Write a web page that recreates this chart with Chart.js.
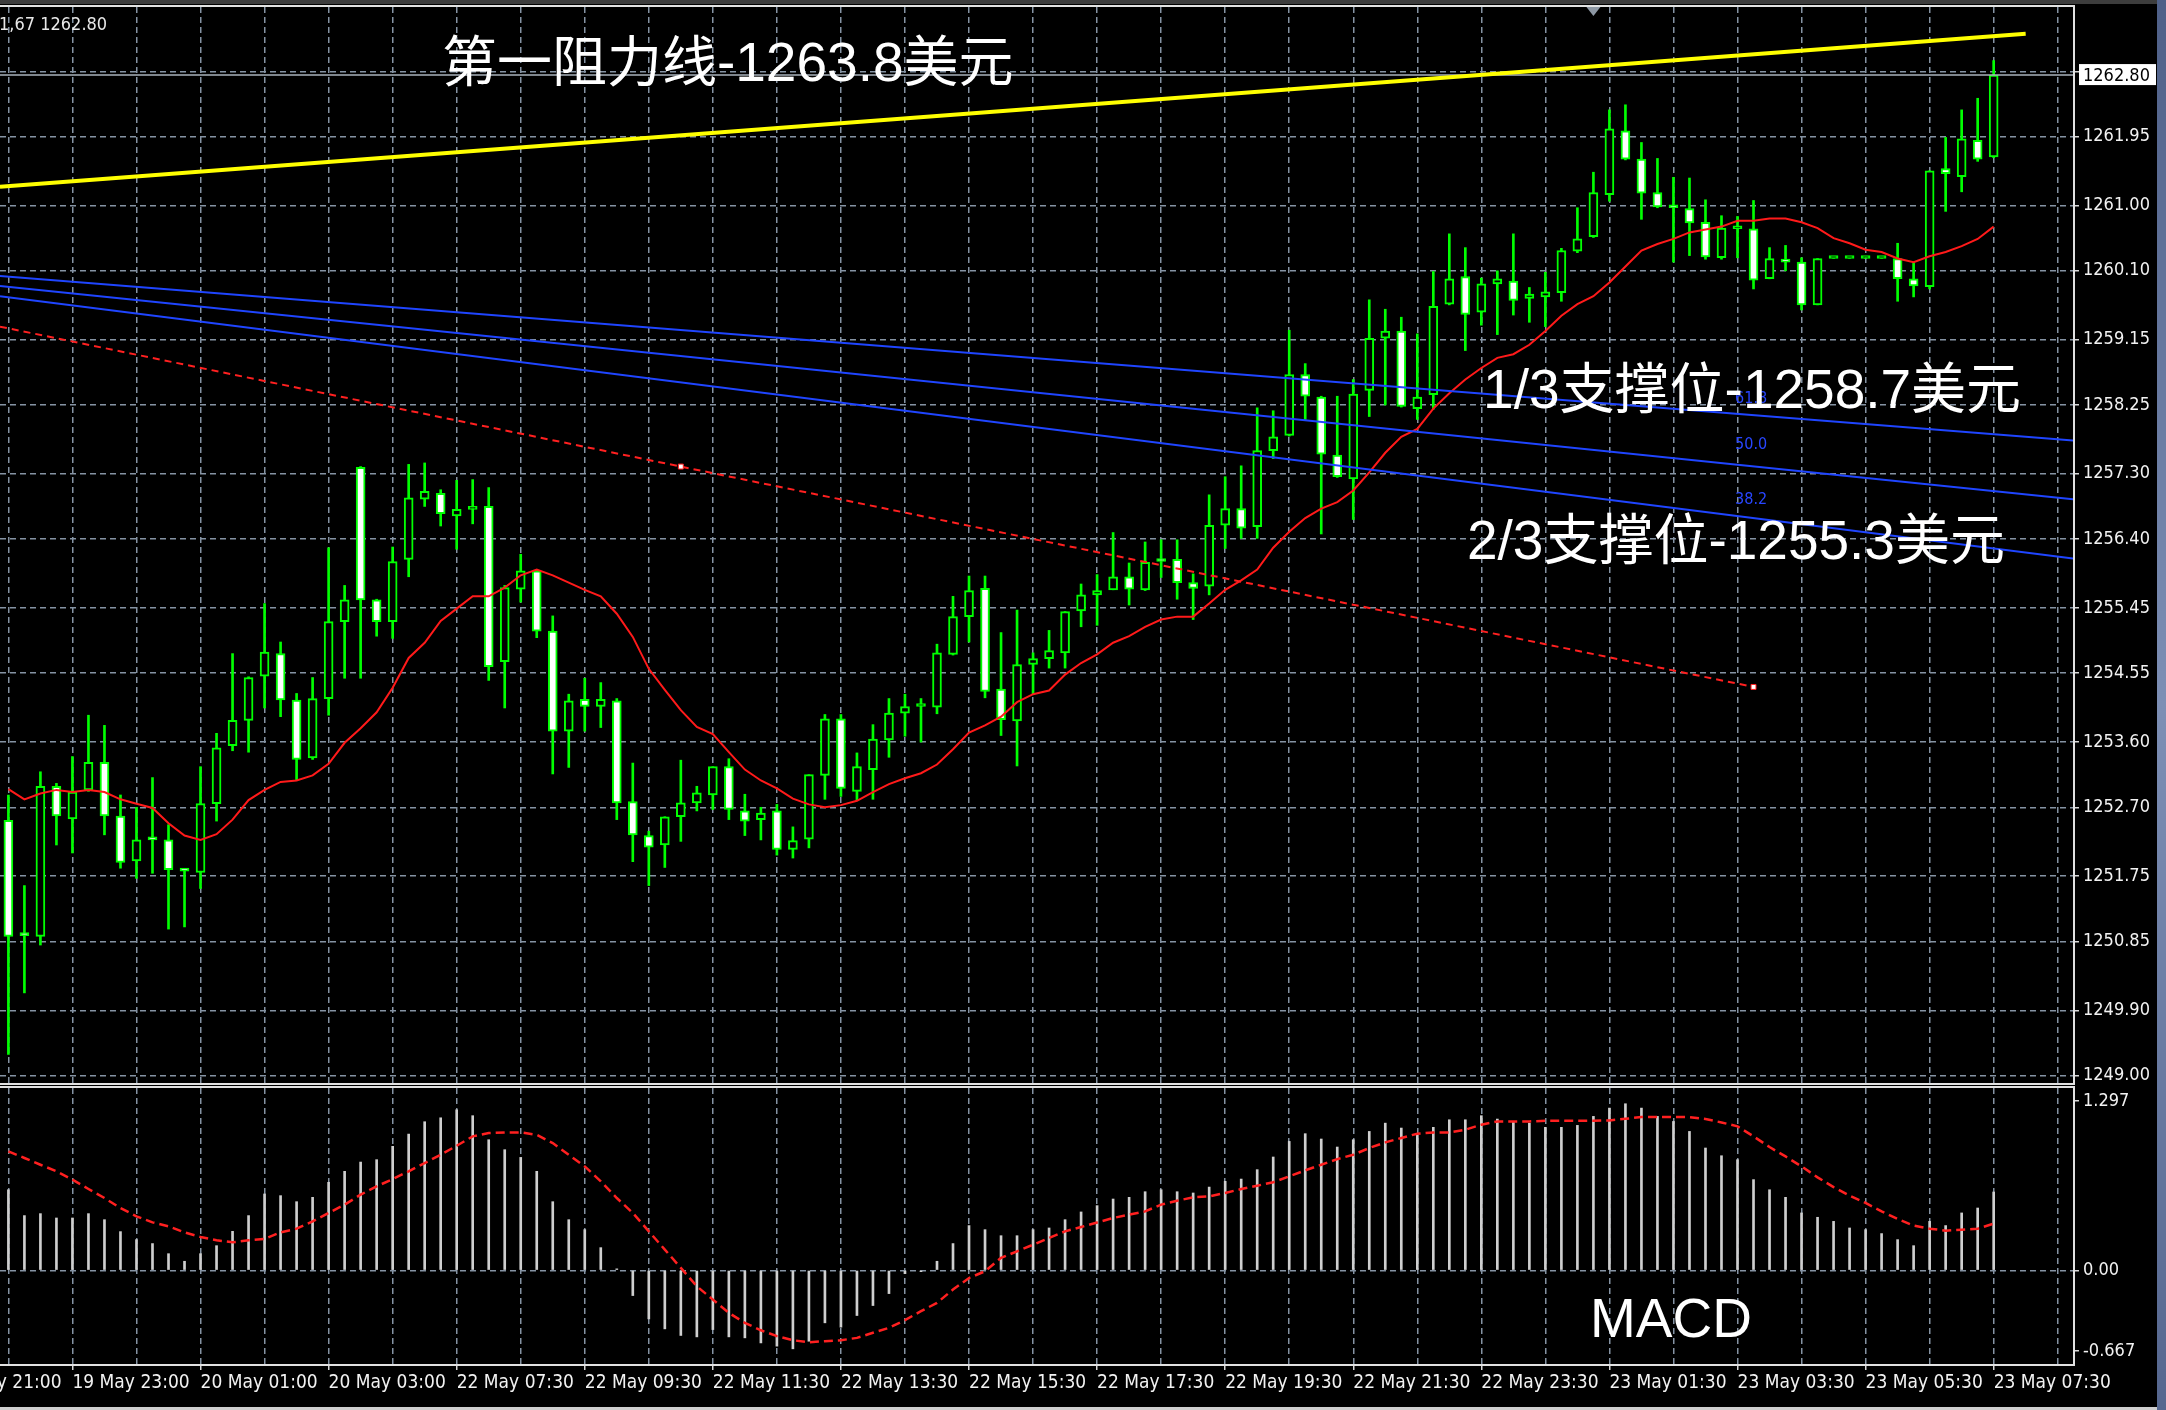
<!DOCTYPE html>
<html>
<head>
<meta charset="utf-8">
<title>XAUUSD M15</title>
<script src="https://cdn.jsdelivr.net/npm/chart.js@4.4.1/dist/chart.umd.min.js"></script>
<style>
  html, body { margin: 0; padding: 0; background: #000; }
  #wrap { position: relative; width: 2166px; height: 1410px; overflow: hidden; background: #000; }
  #priceChart { position: absolute; left: 0; top: 0; width: 2166px; height: 1086px; }
  #macdChart { position: absolute; left: 0; top: 1086px; width: 2166px; height: 324px; }
  #topBand { position: absolute; left: 0; top: 0; width: 2166px; height: 4px; background: #3d3d3d; }
  #desk { position: absolute; left: 2157px; top: 0; width: 9px; height: 1410px; background: linear-gradient(180deg, #4f6088, #7d8fb5 50%, #56678f); }
  #bottomLine { position: absolute; left: 0; top: 1407px; width: 2157px; height: 3px; background: #cfcfcf; }
</style>
</head>
<body>
<div id="wrap">
  <canvas id="priceChart" width="2166" height="1086"></canvas>
  <canvas id="macdChart" width="2166" height="324"></canvas>
  <div id="topBand"></div>
  <div id="desk"></div>
  <div id="bottomLine"></div>
</div>
<script>
// ---- data (bar 0 = 19 May 22:00) ----
const opens = [1252.52,1250.94,1250.92,1252.99,1252.54,1252.94,1253.32,1252.58,1251.96,1252.27,
  1252.25,1251.83,1251.80,1252.75,1253.55,1253.90,1254.51,1254.82,1254.18,1253.38,
  1254.20,1255.26,1257.39,1255.56,1255.26,1256.12,1256.95,1257.03,1256.72,1256.81,
  1256.85,1254.71,1255.71,1255.96,1255.13,1253.75,1254.19,1254.09,1254.17,1252.78,
  1252.31,1252.18,1252.57,1252.76,1252.87,1253.26,1252.65,1252.53,1252.65,1252.12,
  1252.26,1253.14,1253.92,1252.92,1253.22,1253.63,1254.00,1254.09,1254.08,1254.81,
  1255.33,1255.72,1254.33,1253.89,1254.67,1254.75,1254.83,1255.41,1255.63,1255.70,
  1255.88,1255.70,1256.10,1256.12,1255.80,1255.75,1256.59,1256.82,1256.57,1257.62,
  1257.83,1258.67,1258.36,1257.56,1257.23,1258.45,1259.17,1259.27,1258.20,1258.39,
  1259.64,1260.02,1259.53,1259.92,1259.96,1259.72,1259.74,1259.80,1260.37,1260.57,
  1261.15,1262.03,1261.64,1261.18,1260.98,1260.96,1260.77,1260.28,1260.68,1260.68,
  1259.99,1260.26,1260.22,1259.63,1260.27,1260.27,1260.27,1260.27,1260.27,1259.99,
  1259.88,1261.51,1261.40,1261.90,1261.67];
const highs = [1252.87,1251.62,1253.19,1253.03,1253.40,1253.97,1253.83,1252.87,1252.70,1253.11,
  1252.46,1251.84,1253.26,1253.72,1254.82,1254.50,1255.51,1254.98,1254.27,1254.49,
  1256.28,1255.76,1257.40,1255.57,1256.29,1257.43,1257.45,1257.08,1257.21,1257.22,
  1257.11,1255.76,1256.19,1255.98,1255.34,1254.26,1254.48,1254.42,1254.20,1253.31,
  1252.37,1252.57,1253.35,1252.99,1253.26,1253.37,1252.88,1252.70,1252.74,1252.43,
  1253.15,1253.98,1253.98,1253.45,1253.84,1254.20,1254.26,1254.20,1254.95,1255.61,
  1255.89,1255.89,1255.11,1255.42,1254.83,1255.14,1255.40,1255.78,1255.91,1256.49,
  1256.07,1256.36,1256.39,1256.39,1255.92,1257.01,1257.26,1257.41,1258.21,1258.17,
  1259.28,1258.82,1258.37,1258.37,1258.60,1259.70,1259.57,1259.46,1259.23,1260.09,
  1260.61,1260.42,1260.00,1260.10,1260.61,1259.87,1260.08,1260.41,1260.97,1261.46,
  1262.32,1262.39,1261.87,1261.65,1261.39,1261.38,1261.08,1260.86,1260.85,1261.07,
  1260.42,1260.45,1260.28,1260.27,1260.27,1260.27,1260.27,1260.27,1260.48,1260.21,
  1261.48,1261.94,1262.32,1262.48,1263.00];
const lows = [1249.29,1250.14,1250.80,1252.18,1252.07,1252.92,1252.32,1251.86,1251.72,1251.79,
  1251.02,1251.05,1251.58,1252.51,1253.48,1253.46,1254.07,1253.95,1253.08,1253.36,
  1253.97,1254.48,1254.48,1255.06,1255.03,1255.88,1256.85,1256.58,1256.26,1256.61,
  1254.45,1254.07,1255.53,1255.04,1253.16,1253.25,1253.75,1253.80,1252.53,1251.95,
  1251.62,1251.87,1252.23,1252.65,1252.67,1252.53,1252.31,1252.25,1252.04,1252.00,
  1252.14,1252.81,1252.85,1252.80,1252.81,1253.39,1253.68,1253.60,1253.99,1254.80,
  1254.98,1254.21,1253.69,1253.27,1254.26,1254.62,1254.62,1255.19,1255.21,1255.70,
  1255.49,1255.69,1255.87,1255.57,1255.29,1255.63,1256.27,1256.41,1256.41,1257.51,
  1257.82,1258.05,1256.47,1257.25,1256.67,1258.09,1258.25,1258.22,1258.05,1258.19,
  1259.63,1259.00,1259.35,1259.22,1259.49,1259.39,1259.33,1259.68,1260.35,1260.56,
  1261.06,1261.63,1260.81,1260.97,1260.22,1260.31,1260.26,1260.26,1260.28,1259.85,
  1259.99,1260.10,1259.56,1259.63,1260.27,1260.27,1260.27,1260.27,1259.68,1259.74,
  1259.85,1260.92,1261.19,1261.61,1261.66];
const closes = [1250.92,1250.93,1252.99,1252.58,1252.91,1253.32,1252.58,1251.94,1252.25,1252.25,
  1251.84,1251.82,1252.75,1253.52,1253.90,1254.49,1254.84,1254.18,1253.36,1254.20,
  1255.26,1255.56,1255.56,1255.26,1256.09,1256.97,1257.06,1256.75,1256.81,1256.82,
  1254.64,1255.73,1255.96,1255.13,1253.75,1254.17,1254.09,1254.19,1252.76,1252.32,
  1252.15,1252.57,1252.76,1252.90,1253.26,1252.67,1252.51,1252.62,1252.12,1252.24,
  1253.15,1253.92,1252.96,1253.26,1253.64,1254.00,1254.09,1254.10,1254.83,1255.33,
  1255.69,1254.30,1253.91,1254.67,1254.75,1254.86,1255.40,1255.63,1255.69,1255.88,
  1255.71,1256.08,1256.09,1255.80,1255.72,1256.59,1256.82,1256.55,1257.62,1257.81,
  1258.67,1258.37,1257.57,1257.26,1258.40,1259.17,1259.27,1258.23,1258.36,1259.61,
  1259.99,1259.50,1259.92,1259.99,1259.69,1259.78,1259.81,1260.38,1260.54,1261.18,
  1262.06,1261.64,1261.17,1260.98,1260.97,1260.76,1260.29,1260.69,1260.69,1259.97,
  1260.27,1260.22,1259.63,1260.27,1260.27,1260.27,1260.27,1260.27,1259.99,1259.89,
  1261.48,1261.44,1261.92,1261.64,1262.80];
const movingAvg = [1252.95,1252.81,1252.89,1252.94,1252.91,1252.94,1252.91,1252.81,1252.75,1252.69,
  1252.48,1252.31,1252.25,1252.33,1252.53,1252.80,1252.94,1253.05,1253.07,1253.14,
  1253.30,1253.59,1253.79,1254.01,1254.35,1254.76,1254.97,1255.27,1255.44,1255.61,
  1255.61,1255.73,1255.90,1255.98,1255.90,1255.80,1255.70,1255.61,1255.37,1255.05,
  1254.61,1254.32,1254.04,1253.81,1253.71,1253.46,1253.22,1253.07,1252.96,1252.82,
  1252.74,1252.70,1252.73,1252.79,1252.91,1253.02,1253.10,1253.17,1253.29,1253.50,
  1253.73,1253.83,1253.95,1254.15,1254.26,1254.31,1254.53,1254.69,1254.81,1254.97,
  1255.06,1255.19,1255.29,1255.33,1255.33,1255.51,1255.70,1255.83,1255.98,1256.28,
  1256.50,1256.69,1256.82,1256.91,1257.07,1257.32,1257.59,1257.81,1257.92,1258.20,
  1258.41,1258.60,1258.76,1258.90,1258.95,1259.08,1259.27,1259.48,1259.64,1259.75,
  1259.94,1260.16,1260.38,1260.47,1260.54,1260.63,1260.67,1260.71,1260.79,1260.79,
  1260.82,1260.82,1260.77,1260.69,1260.55,1260.48,1260.39,1260.36,1260.27,1260.22,
  1260.30,1260.36,1260.44,1260.54,1260.71];
const macdHist = [0.573,0.389,0.403,0.372,0.372,0.403,0.360,0.275,0.218,0.190,
  0.118,0.064,0.118,0.175,0.277,0.389,0.543,0.531,0.488,0.519,
  0.626,0.704,0.770,0.787,0.882,0.969,1.057,1.085,1.142,1.100,
  0.929,0.858,0.803,0.704,0.488,0.360,0.289,0.161,0.010,-0.180,
  -0.346,-0.417,-0.464,-0.474,-0.422,-0.474,-0.481,-0.517,-0.540,-0.559,
  -0.505,-0.374,-0.405,-0.322,-0.251,-0.166,-0.024,-0.010,0.064,0.190,
  0.318,0.289,0.246,0.246,0.289,0.301,0.360,0.415,0.460,0.507,
  0.519,0.559,0.573,0.559,0.550,0.592,0.633,0.649,0.716,0.806,
  0.917,0.972,0.934,0.877,0.929,0.988,1.047,1.012,0.964,1.017,
  1.071,1.071,1.100,1.076,1.059,1.047,1.017,1.017,1.031,1.095,
  1.154,1.185,1.154,1.095,1.059,0.988,0.870,0.815,0.787,0.645,
  0.573,0.519,0.408,0.377,0.348,0.301,0.289,0.261,0.218,0.175,
  0.348,0.318,0.408,0.443,0.557];
const macdSignal = [0.846,0.799,0.751,0.704,0.645,0.578,0.514,0.443,0.384,0.341,
  0.313,0.270,0.237,0.213,0.199,0.213,0.223,0.270,0.296,0.348,
  0.408,0.467,0.538,0.597,0.649,0.704,0.763,0.822,0.886,0.953,
  0.976,0.981,0.981,0.964,0.905,0.822,0.739,0.633,0.514,0.408,
  0.277,0.147,0.017,-0.114,-0.209,-0.303,-0.374,-0.427,-0.469,-0.498,
  -0.512,-0.505,-0.498,-0.481,-0.445,-0.410,-0.355,-0.291,-0.232,-0.137,
  -0.055,-0.007,0.088,0.135,0.182,0.230,0.277,0.308,0.340,0.372,
  0.396,0.419,0.467,0.495,0.519,0.526,0.550,0.578,0.602,0.626,
  0.668,0.711,0.751,0.791,0.822,0.870,0.910,0.941,0.972,0.981,
  0.981,1.000,1.036,1.059,1.059,1.059,1.064,1.064,1.064,1.064,
  1.066,1.078,1.090,1.090,1.090,1.090,1.076,1.052,1.024,0.953,
  0.877,0.810,0.739,0.661,0.592,0.531,0.479,0.419,0.365,0.318,
  0.296,0.282,0.289,0.296,0.332];

// tick labels: time labels every 8 bars starting at bar -4
const timeLabels = ['19 May 21:00','19 May 23:00','20 May 01:00','20 May 03:00','22 May 07:30',
  '22 May 09:30','22 May 11:30','22 May 13:30','22 May 15:30','22 May 17:30','22 May 19:30',
  '22 May 21:30','22 May 23:30','23 May 01:30','23 May 03:30','23 May 05:30','23 May 07:30'];
const priceTicks = ['1249.00','1249.90','1250.85','1251.75','1252.70','1253.60','1254.55','1255.45',
  '1256.40','1257.30','1258.25','1259.15','1260.10','1261.00','1261.95'];
const macdAxisLabels = ['1.297', '0.00', '-0.667'];

// drawn objects (trend lines, fan, levels)
const resistanceLine = [1261.26, 1263.37];      // left edge -> bar 126
const fanLeft = [1260.03, 1259.89, 1259.75];     // 61.8 / 50.0 / 38.2 at left edge
const fanRight = [1257.76, 1256.95, 1256.13];    // at right edge
const fanLevels = ['61.8', '50.0', '38.2'];
const trendBars = [42, 109];
const trendPrices = [1259.33, 1257.40, 1254.36]; // left edge, anchor 1, anchor 2
const lastPrice = 1262.80;
const headerText = '1,67 1262.80';
const levelNotes = ['第一阻力线-1263.8美元', '1/3支撑位-1258.7美元', '2/3支撑位-1255.3美元'];
const macdNote = 'MACD';

// ---- layout ----
const xMin = -0.525, xMax = 128.955;
const gridColor = '#8593a3';
const axisFamily = "'DejaVu Sans Condensed', 'DejaVu Sans', sans-serif";
const noteFont = "55px 'Liberation Sans', 'Noto Sans CJK SC', sans-serif";

Chart.defaults.font.family = axisFamily;
Chart.defaults.font.size = 18;

// keep chart areas exactly where the panels are: no label padding
function noPadding(scale) {
    scale.paddingLeft = 0;
    scale.paddingRight = 0;
    scale.paddingTop = 0;
    scale.paddingBottom = 0;
}

function xAxis(showLabels) {
    return {
        type: 'linear',
        min: xMin,
        max: xMax,
        offset: false,
        afterBuildTicks: (scale) => {
            const t = [];
            for (let b = -4; b <= 128; b += 4) t.push({ value: b });
            scale.ticks = t;
        },
        afterFit: (scale) => {
            noPadding(scale);
            scale.height = showLabels ? 46 : 0;
        },
        grid: {
            offset: false,
            color: gridColor,
            lineWidth: 1.5,
            drawTicks: showLabels,
            tickLength: 6,
            tickWidth: 1.5,
            tickBorderDash: [],
            tickColor: (ctx) => (ctx.tick && (ctx.tick.value + 4) % 8 === 0) ? '#d8d8d8' : 'rgba(0,0,0,0)'
        },
        border: { display: false, dash: [6, 4] },
        ticks: {
            display: showLabels,
            autoSkip: false,
            maxRotation: 0,
            minRotation: 0,
            align: 'start',
            padding: 2,
            color: '#f2f2f2',
            font: { size: 19 },
            callback: (value) => {
                const k = (value + 4) / 8;
                return Number.isInteger(k) && timeLabels[k] ? timeLabels[k] : '';
            }
        }
    };
}

function frameLines(ctx, a) {
    ctx.strokeStyle = '#e2e2e2';
    ctx.lineWidth = 2;
    ctx.beginPath();
    ctx.moveTo(0, a.top - 1);
    ctx.lineTo(a.right + 1, a.top - 1);
    ctx.lineTo(a.right + 1, a.bottom + 1);
    ctx.lineTo(0, a.bottom + 1);
    ctx.stroke();
}

const priceDecor = {
    id: 'priceDecor',
    afterDraw(chart) {
        const { ctx, chartArea: a, scales: { x, y } } = chart;
        ctx.save();
        frameLines(ctx, a);

        // chart shift marker
        const sx = x.getPixelForValue(99);
        ctx.fillStyle = '#8d97a3';
        ctx.beginPath();
        ctx.moveTo(sx - 7, a.top);
        ctx.lineTo(sx + 7, a.top);
        ctx.lineTo(sx, a.top + 9);
        ctx.closePath();
        ctx.fill();

        // fan level captions
        ctx.font = '16px ' + axisFamily;
        ctx.fillStyle = '#2846ff';
        ctx.textBaseline = 'alphabetic';
        const capPrices = [1258.28, 1257.64, 1256.88];
        fanLevels.forEach((t, i) => ctx.fillText(t, x.getPixelForValue(107.85), y.getPixelForValue(capPrices[i])));

        // level notes
        ctx.font = noteFont;
        ctx.fillStyle = '#ffffff';
        const notePos = [[27.08, 1262.72], [92.11, 1258.21], [91.1, 1256.13]];
        levelNotes.forEach((t, i) => ctx.fillText(t, x.getPixelForValue(notePos[i][0]), y.getPixelForValue(notePos[i][1])));

        // last price box on the axis
        const py = y.getPixelForValue(lastPrice);
        ctx.fillStyle = '#ffffff';
        ctx.fillRect(a.right + 6, py - 11, 77, 21);
        ctx.fillStyle = '#000000';
        ctx.font = '18px ' + axisFamily;
        ctx.textBaseline = 'middle';
        ctx.fillText(lastPrice.toFixed(2), a.right + 10, py + 1);

        // header
        ctx.fillStyle = '#e8e8e8';
        ctx.textBaseline = 'alphabetic';
        ctx.fillText(headerText, -1, 30);
        ctx.restore();
    }
};

const macdDecor = {
    id: 'macdDecor',
    afterDraw(chart) {
        const { ctx, chartArea: a, scales: { x, y } } = chart;
        ctx.save();
        frameLines(ctx, a);
        ctx.font = noteFont;
        ctx.fillStyle = '#ffffff';
        ctx.textBaseline = 'alphabetic';
        ctx.fillText(macdNote, x.getPixelForValue(98.79), y.getPixelForValue(-0.475));
        ctx.restore();
    }
};

document.addEventListener('DOMContentLoaded', function() {
    const bars = opens.map((_, i) => i);
    const bodyFill = bars.map(i => closes[i] < opens[i] ? '#ffffff' : '#000000');

    new Chart(document.getElementById('priceChart').getContext('2d'), {
        type: 'bar',
        data: {
            datasets: [{
                label: 'wick',
                data: bars.map(i => ({ x: i, y: [lows[i], highs[i]] })),
                backgroundColor: '#00ff00',
                borderWidth: 0,
                barThickness: 2,
                grouped: false,
                order: 10
            }, {
                label: 'body',
                data: bars.map(i => ({ x: i, y: [opens[i], closes[i]] })),
                backgroundColor: bodyFill,
                borderColor: '#00ff00',
                borderWidth: 2,
                borderSkipped: false,
                barThickness: 9,
                minBarLength: 3,
                grouped: false,
                order: 9
            }, {
                type: 'line',
                label: 'MA',
                data: bars.map(i => ({ x: i, y: movingAvg[i] })),
                borderColor: '#ff1a1a',
                borderWidth: 2,
                pointRadius: 0,
                order: 5
            }, ...fanLevels.map((lvl, k) => ({
                type: 'line',
                label: 'fan ' + lvl,
                data: [{ x: xMin, y: fanLeft[k] }, { x: xMax, y: fanRight[k] }],
                borderColor: '#1f45ff',
                borderWidth: 2,
                pointRadius: 0,
                order: 4
            })), {
                type: 'line',
                label: 'trend',
                data: [{ x: xMin, y: trendPrices[0] }, { x: trendBars[0], y: trendPrices[1] }, { x: trendBars[1], y: trendPrices[2] }],
                borderColor: '#ff2020',
                borderWidth: 2,
                borderDash: [7, 5],
                pointStyle: 'rect',
                pointRadius: [0, 3.5, 3.5],
                pointBackgroundColor: '#ffffff',
                pointBorderColor: '#ff2020',
                pointBorderWidth: 1,
                order: 3
            }, {
                type: 'line',
                label: 'resistance',
                data: [{ x: xMin, y: resistanceLine[0] }, { x: 126, y: resistanceLine[1] }],
                borderColor: '#ffff00',
                borderWidth: 4,
                pointRadius: 0,
                order: 2
            }, {
                type: 'line',
                label: 'last',
                data: [{ x: xMin, y: lastPrice }, { x: xMax, y: lastPrice }],
                borderColor: '#aab3bd',
                borderWidth: 1.5,
                pointRadius: 0,
                order: 6
            }]
        },
        options: {
            responsive: false,
            animation: false,
            devicePixelRatio: 1,
            layout: { padding: { top: 7, bottom: 3, left: 0, right: 0 }, autoPadding: false },
            plugins: { legend: { display: false }, tooltip: { enabled: false } },
            scales: {
                x: xAxis(false),
                y: {
                    type: 'linear',
                    position: 'right',
                    min: 1248.897,
                    max: 1263.739,
                    beginAtZero: false,
                    afterBuildTicks: (scale) => {
                        scale.ticks = priceTicks.map(v => ({ value: parseFloat(v) })).concat([{ value: 1262.85 }]);
                    },
                    afterFit: (scale) => {
                        noPadding(scale);
                        scale.width = 93;
                    },
                    grid: {
                        color: gridColor,
                        lineWidth: 1.5,
                        tickLength: 6,
                        tickWidth: 1.5,
                        tickColor: '#d8d8d8',
                        tickBorderDash: []
                    },
                    border: { display: false, dash: [6, 4] },
                    ticks: {
                        autoSkip: false,
                        padding: 4,
                        color: '#f2f2f2',
                        font: { size: 18 },
                        callback: (v, i) => priceTicks[i] || ''
                    }
                }
            }
        },
        plugins: [priceDecor]
    });

    new Chart(document.getElementById('macdChart').getContext('2d'), {
        type: 'bar',
        data: {
            datasets: [{
                label: 'MACD',
                data: bars.map(i => ({ x: i, y: macdHist[i] })),
                backgroundColor: '#cfcfcf',
                borderWidth: 0,
                barThickness: 2,
                order: 2
            }, {
                type: 'line',
                label: 'Signal',
                data: bars.map(i => ({ x: i, y: macdSignal[i] })),
                borderColor: '#ff2020',
                borderWidth: 2.5,
                borderDash: [9, 5],
                pointRadius: 0,
                order: 1
            }]
        },
        options: {
            responsive: false,
            animation: false,
            devicePixelRatio: 1,
            layout: { padding: { top: 2, bottom: 0, left: 0, right: 0 }, autoPadding: false },
            plugins: { legend: { display: false }, tooltip: { enabled: false } },
            scales: {
                x: xAxis(true),
                y: {
                    type: 'linear',
                    position: 'right',
                    min: -0.667,
                    max: 1.297,
                    beginAtZero: false,
                    afterBuildTicks: (scale) => {
                        scale.ticks = [1.205, 0, -0.574].map(v => ({ value: v }));
                    },
                    afterFit: (scale) => {
                        noPadding(scale);
                        scale.width = 93;
                    },
                    grid: {
                        color: (ctx) => (ctx.tick && ctx.tick.value === 0) ? gridColor : 'rgba(0,0,0,0)',
                        lineWidth: 1.5,
                        tickLength: 6,
                        tickWidth: 1.5,
                        tickColor: '#d8d8d8',
                        tickBorderDash: []
                    },
                    border: { display: false, dash: [6, 4] },
                    ticks: {
                        autoSkip: false,
                        padding: 4,
                        color: '#f2f2f2',
                        font: { size: 18 },
                        callback: (v, i) => macdAxisLabels[i]
                    }
                }
            }
        },
        plugins: [macdDecor]
    });
});
</script>
</body>
</html>
